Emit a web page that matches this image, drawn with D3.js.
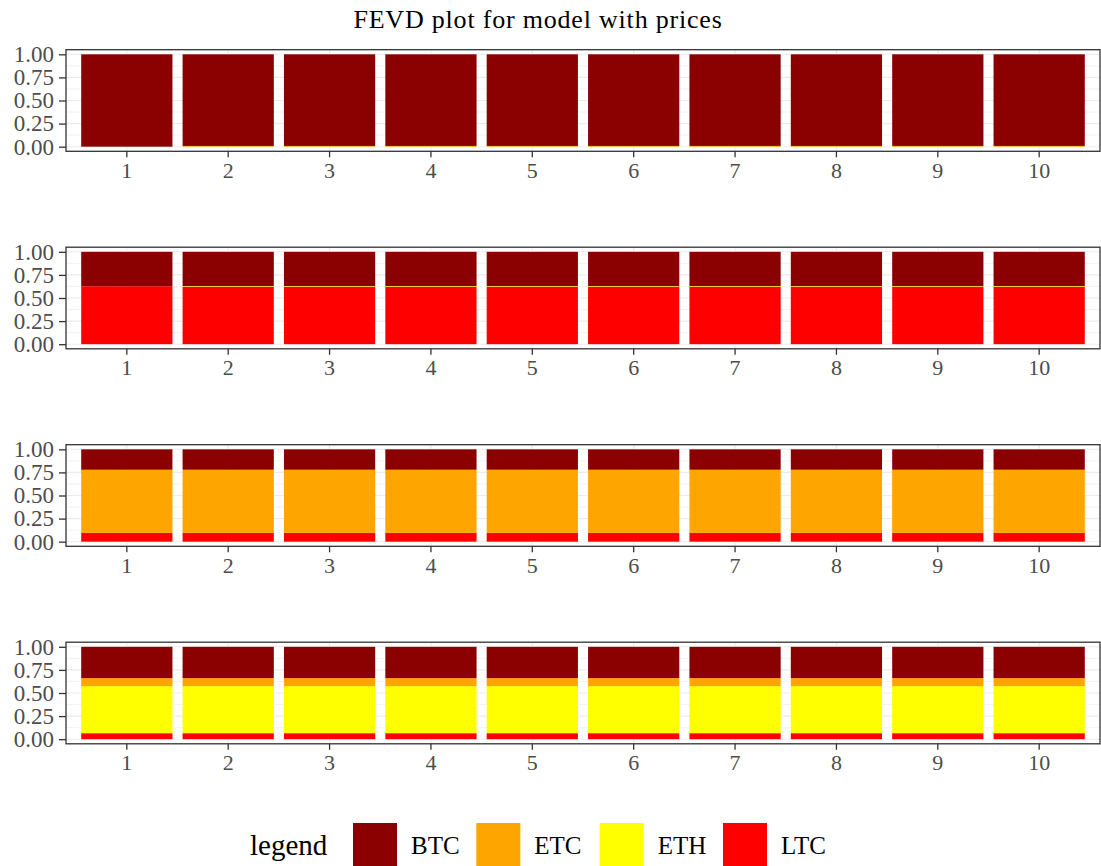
<!DOCTYPE html>
<html>
<head>
<meta charset="utf-8">
<script src="https://cdn.jsdelivr.net/npm/d3@7"></script>
<style>
  body { margin: 0; background: #fff; }
  svg { display: block; }
  text { font-family: "Liberation Serif", "DejaVu Serif", serif; }
</style>
</head>
<body>
<svg id="chart" width="1101" height="866"></svg>
<script>
// Forecast horizons
const horizons = ["1", "2", "3", "4", "5", "6", "7", "8", "9", "10"];
const seriesNames = ["BTC", "ETC", "ETH", "LTC"];
const seriesColors = ["#8B0000", "#FFA500", "#FFFF00", "#FF0000"];
const yTicks = [0, 0.25, 0.5, 0.75, 1];
const yTickLabels = ["0.00", "0.25", "0.50", "0.75", "1.00"];

// Variance shares of the BTC equation
const btcBTC = [1.000, 0.992, 0.992, 0.992, 0.992, 0.992, 0.992, 0.992, 0.992, 0.992];
const btcETC = [0.000, 0.008, 0.008, 0.008, 0.008, 0.008, 0.008, 0.008, 0.008, 0.008];
const btcETH = [0, 0, 0, 0, 0, 0, 0, 0, 0, 0];
const btcLTC = [0, 0, 0, 0, 0, 0, 0, 0, 0, 0];

// Variance shares of the LTC equation
const ltcBTC = [0.373, 0.372, 0.372, 0.372, 0.372, 0.372, 0.372, 0.372, 0.372, 0.372];
const ltcETC = [0, 0, 0, 0, 0, 0, 0, 0, 0, 0];
const ltcETH = [0.000, 0.008, 0.008, 0.008, 0.008, 0.008, 0.008, 0.008, 0.008, 0.008];
const ltcLTC = [0.627, 0.620, 0.620, 0.620, 0.620, 0.620, 0.620, 0.620, 0.620, 0.620];

// Variance shares of the ETC equation
const etcBTC = [0.221, 0.221, 0.221, 0.221, 0.221, 0.221, 0.221, 0.221, 0.221, 0.221];
const etcETC = [0.684, 0.684, 0.684, 0.684, 0.684, 0.684, 0.684, 0.684, 0.684, 0.684];
const etcETH = [0, 0, 0, 0, 0, 0, 0, 0, 0, 0];
const etcLTC = [0.095, 0.095, 0.095, 0.095, 0.095, 0.095, 0.095, 0.095, 0.095, 0.095];

// Variance shares of the ETH equation
const ethBTC = [0.339, 0.339, 0.339, 0.339, 0.339, 0.339, 0.339, 0.339, 0.339, 0.339];
const ethETC = [0.087, 0.087, 0.087, 0.087, 0.087, 0.087, 0.087, 0.087, 0.087, 0.087];
const ethETH = [0.509, 0.509, 0.509, 0.509, 0.509, 0.509, 0.509, 0.509, 0.509, 0.509];
const ethLTC = [0.065, 0.065, 0.065, 0.065, 0.065, 0.065, 0.065, 0.065, 0.065, 0.065];

const panels = [
  { BTC: btcBTC, ETC: btcETC, ETH: btcETH, LTC: btcLTC },
  { BTC: ltcBTC, ETC: ltcETC, ETH: ltcETH, LTC: ltcLTC },
  { BTC: etcBTC, ETC: etcETC, ETH: etcETH, LTC: etcLTC },
  { BTC: ethBTC, ETC: ethETC, ETH: ethETH, LTC: ethLTC }
];

const svg = d3.select("#chart");
const color = d3.scaleOrdinal().domain(seriesNames).range(seriesColors);

const plotLeft = 66, plotRight = 1100;
const panelTop0 = 49.7, panelStep = 197.5, panelH = 101.6;

const x = d3.scaleBand()
  .domain(horizons)
  .range([plotLeft, plotRight])
  .paddingInner(0.1)
  .paddingOuter(0.15);

// LTC at the bottom, BTC on top
const stackOrder = ["LTC", "ETH", "ETC", "BTC"];
const stack = d3.stack().keys(stackOrder);

svg.append("text")
  .attr("x", 538)
  .attr("y", 28)
  .attr("text-anchor", "middle")
  .attr("font-size", 26)
  .attr("letter-spacing", 0.8)
  .attr("fill", "#000")
  .text("FEVD plot for model with prices");

panels.forEach((p, i) => {
  const top = panelTop0 + i * panelStep;
  const y = d3.scaleLinear().domain([-0.05, 1.05]).range([top + panelH, top]);
  const g = svg.append("g");

  const rows = horizons.map((h, j) => {
    const r = { h };
    seriesNames.forEach(s => { r[s] = p[s][j]; });
    return r;
  });

  // background grid
  const minor = [0.125, 0.375, 0.625, 0.875];
  g.selectAll(".minor").data(minor).join("line")
    .attr("x1", plotLeft).attr("x2", plotRight)
    .attr("y1", d => y(d)).attr("y2", d => y(d))
    .attr("stroke", "#EBEBEB").attr("stroke-width", 0.6);
  g.selectAll(".major").data(yTicks).join("line")
    .attr("x1", plotLeft).attr("x2", plotRight)
    .attr("y1", d => y(d)).attr("y2", d => y(d))
    .attr("stroke", "#EBEBEB").attr("stroke-width", 1.1);
  g.selectAll(".vmajor").data(horizons).join("line")
    .attr("x1", d => x(d) + x.bandwidth() / 2).attr("x2", d => x(d) + x.bandwidth() / 2)
    .attr("y1", top).attr("y2", top + panelH)
    .attr("stroke", "#EBEBEB").attr("stroke-width", 1.1);

  // stacked bars
  const layers = stack(rows);
  g.selectAll(".layer").data(layers).join("g")
    .attr("fill", d => color(d.key))
    .selectAll("rect").data(d => d).join("rect")
    .attr("x", d => x(d.data.h))
    .attr("width", x.bandwidth())
    .attr("y", d => y(d[1]))
    .attr("height", d => Math.max(0, y(d[0]) - y(d[1])));

  // panel border
  g.append("rect")
    .attr("x", plotLeft).attr("y", top)
    .attr("width", plotRight - plotLeft).attr("height", panelH)
    .attr("fill", "none").attr("stroke", "#333333").attr("stroke-width", 1.3);

  // y axis
  const yAxis = d3.axisLeft(y).tickValues(yTicks)
    .tickFormat((d, k) => yTickLabels[k]).tickSize(7).tickPadding(5);
  const ya = g.append("g").attr("transform", `translate(${plotLeft},0)`).call(yAxis);
  ya.select(".domain").remove();
  ya.selectAll("line").attr("stroke", "#333333").attr("stroke-width", 1.3);
  ya.selectAll("text").attr("font-size", 23).attr("fill", "#4D4D4D")
    .attr("font-family", "Liberation Serif, serif");

  // x axis
  const xAxis = d3.axisBottom(x).tickSize(6).tickPadding(5);
  const xa = g.append("g").attr("transform", `translate(0,${top + panelH})`).call(xAxis);
  xa.select(".domain").remove();
  xa.selectAll("line").attr("stroke", "#333333").attr("stroke-width", 1.3);
  xa.selectAll("text").attr("font-size", 22).attr("fill", "#4D4D4D")
    .attr("font-family", "Liberation Serif, serif");
});

// legend
const legend = svg.append("g");
legend.append("text")
  .attr("x", 250).attr("y", 855)
  .attr("font-size", 29).attr("fill", "#000")
  .text("legend");
const keyX = d3.scaleLinear().domain([0, 3]).range([353, 723]);
seriesNames.forEach((s, k) => {
  legend.append("rect")
    .attr("x", keyX(k)).attr("y", 823)
    .attr("width", 44).attr("height", 44)
    .attr("fill", color(s));
  legend.append("text")
    .attr("x", keyX(k) + 58).attr("y", 854)
    .attr("font-size", 25).attr("fill", "#000")
    .text(s);
});
</script>
</body>
</html>
